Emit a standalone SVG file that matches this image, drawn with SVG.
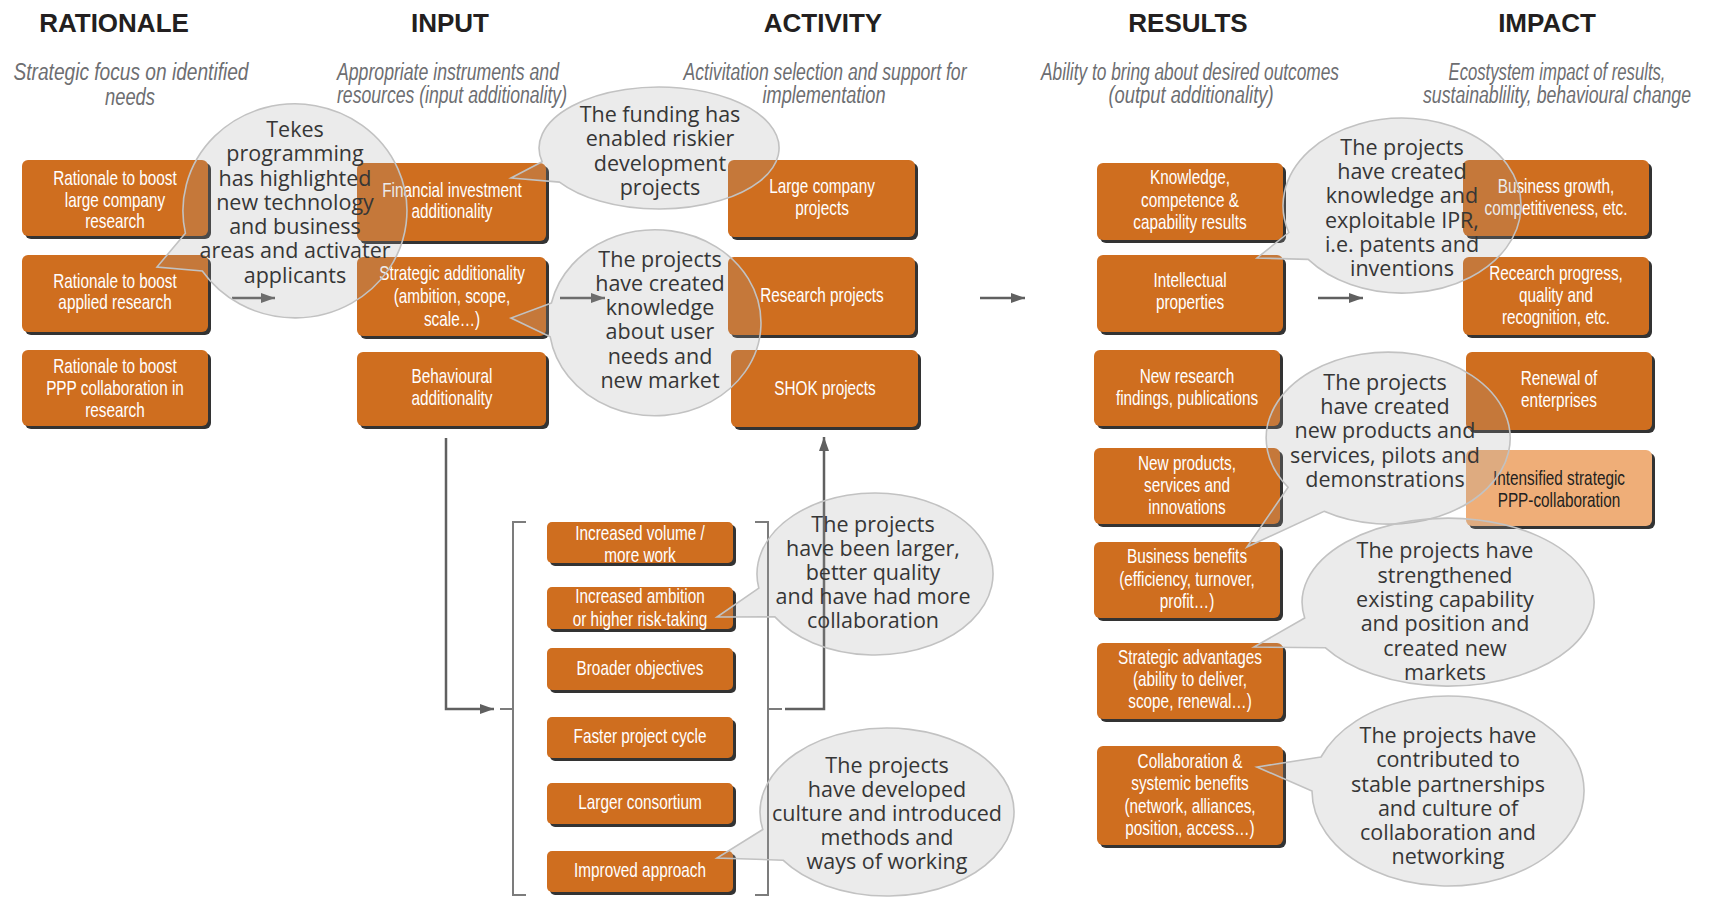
<svg xmlns="http://www.w3.org/2000/svg" width="1711" height="897" viewBox="0 0 1711 897">
  <style>
    .box { fill: #cf6e1f; }
    .box.light { fill: #efae78; }
    .sh { fill: #333333; }
    .bt { font-family: 'Liberation Sans', Arial, sans-serif; font-size: 21px; fill: #ffffff; text-anchor: middle; }
    .bt.dark { fill: #231f20; }
    .hd { font-family: 'Liberation Sans', Arial, sans-serif; font-weight: bold; font-size: 26px; fill: #231f20; text-anchor: middle; }
    .sub { font-family: 'Liberation Sans', Arial, sans-serif; font-style: italic; font-size: 23px; fill: #6d6e71; text-anchor: middle; }
    .bubble { fill: #9f9f9f; fill-opacity: 0.21; stroke: #c2c2c2; stroke-width: 1.6; stroke-linejoin: miter; }
    .ct { font-family: 'Open Sans', 'Noto Sans', sans-serif; font-size: 21.5px; fill: #363636; text-anchor: middle; }
    .ln { fill: none; stroke: #7c7c7c; stroke-width: 2; }
    .arr { fill: none; stroke: #606060; stroke-width: 2.5; marker-end: url(#head); }
  </style>
  <defs>
    <marker id="head" markerUnits="userSpaceOnUse" markerWidth="16" markerHeight="12" refX="14" refY="5" orient="auto">
      <path d="M0,0 L14,5 L0,10 Z" fill="#606060"/>
    </marker>
  </defs>

  <!-- column headings -->
  <g id="headings">
    <text class="hd" x="114" y="32">RATIONALE</text>
    <text class="hd" x="450" y="32">INPUT</text>
    <text class="hd" x="823" y="32">ACTIVITY</text>
    <text class="hd" x="1188" y="32">RESULTS</text>
    <text class="hd" x="1547" y="32">IMPACT</text>
  </g>

  <!-- column subtitles -->
  <g id="subtitles">
    <text class="sub" x="131" y="80" textLength="235" lengthAdjust="spacingAndGlyphs">Strategic focus on identified</text>
    <text class="sub" x="130" y="105" textLength="50" lengthAdjust="spacingAndGlyphs">needs</text>
    <text class="sub" x="448" y="80" textLength="222" lengthAdjust="spacingAndGlyphs">Appropriate instruments and</text>
    <text class="sub" x="452" y="103" textLength="230" lengthAdjust="spacingAndGlyphs">resources (input additionality)</text>
    <text class="sub" x="825" y="80" textLength="283" lengthAdjust="spacingAndGlyphs">Activitation selection and support for</text>
    <text class="sub" x="824" y="103" textLength="123" lengthAdjust="spacingAndGlyphs">implementation</text>
    <text class="sub" x="1190" y="80" textLength="298" lengthAdjust="spacingAndGlyphs">Ability to bring about desired outcomes</text>
    <text class="sub" x="1191" y="103" textLength="165" lengthAdjust="spacingAndGlyphs">(output additionality)</text>
    <text class="sub" x="1557" y="80" textLength="217" lengthAdjust="spacingAndGlyphs">Ecostystem impact of results,</text>
    <text class="sub" x="1557" y="103" textLength="268" lengthAdjust="spacingAndGlyphs">sustainablility, behavioural change</text>
  </g>

  <!-- connectors -->
  <g id="connectors">
    <line class="arr" x1="232" y1="298" x2="275" y2="298"/>
    <line class="arr" x1="560" y1="298" x2="605" y2="298"/>
    <line class="arr" x1="980" y1="298" x2="1025" y2="298"/>
    <line class="arr" x1="1318" y1="298" x2="1363" y2="298"/>
    <path class="arr" d="M446,438 V709 H494"/>
    <path class="ln" d="M526,522 H513 V895 H526 M513,709 H500"/>
    <path class="ln" d="M755,522 H768 V895 H755 M768,709 H782"/>
    <path class="arr" d="M785,709 H824 V437"/>
  </g>

  <!-- rationale column -->
  <g id="rationale-large">
    <rect class="sh" x="25" y="163" width="186" height="76" rx="6"/>
    <rect class="box" x="22" y="160" width="186" height="76" rx="6"/>
    <text class="bt" transform="translate(115 0) scale(.73 1)"><tspan x="0" y="185">Rationale to boost</tspan><tspan x="0" y="207">large company</tspan><tspan x="0" y="228">research</tspan></text>
  </g>
  <g id="rationale-applied">
    <rect class="sh" x="25" y="258" width="186" height="77" rx="6"/>
    <rect class="box" x="22" y="255" width="186" height="77" rx="6"/>
    <text class="bt" transform="translate(115 0) scale(.73 1)"><tspan x="0" y="288">Rationale to boost</tspan><tspan x="0" y="309">applied research</tspan></text>
  </g>
  <g id="rationale-ppp">
    <rect class="sh" x="25" y="353" width="186" height="76" rx="6"/>
    <rect class="box" x="22" y="350" width="186" height="76" rx="6"/>
    <text class="bt" transform="translate(115 0) scale(.73 1)"><tspan x="0" y="373">Rationale to boost</tspan><tspan x="0" y="395">PPP collaboration in</tspan><tspan x="0" y="417">research</tspan></text>
  </g>

  <!-- input column -->
  <g id="input-financial">
    <rect class="sh" x="360" y="166" width="189" height="78" rx="6"/>
    <rect class="box" x="357" y="163" width="189" height="78" rx="6"/>
    <text class="bt" transform="translate(452 0) scale(.73 1)"><tspan x="0" y="197">Financial investment</tspan><tspan x="0" y="218">additionality</tspan></text>
  </g>
  <g id="input-strategic">
    <rect class="sh" x="360" y="260" width="189" height="79" rx="6"/>
    <rect class="box" x="357" y="257" width="189" height="79" rx="6"/>
    <text class="bt" transform="translate(452 0) scale(.73 1)"><tspan x="0" y="280">Strategic additionality</tspan><tspan x="0" y="303">(ambition, scope,</tspan><tspan x="0" y="326">scale…)</tspan></text>
  </g>
  <g id="input-behavioural">
    <rect class="sh" x="360" y="355" width="189" height="74" rx="6"/>
    <rect class="box" x="357" y="352" width="189" height="74" rx="6"/>
    <text class="bt" transform="translate(452 0) scale(.73 1)"><tspan x="0" y="383">Behavioural</tspan><tspan x="0" y="405">additionality</tspan></text>
  </g>

  <!-- activity column -->
  <g id="activity-large">
    <rect class="sh" x="731" y="163" width="187" height="77" rx="6"/>
    <rect class="box" x="728" y="160" width="187" height="77" rx="6"/>
    <text class="bt" transform="translate(822 0) scale(.73 1)"><tspan x="0" y="193">Large company</tspan><tspan x="0" y="215">projects</tspan></text>
  </g>
  <g id="activity-research">
    <rect class="sh" x="731" y="260" width="187" height="78" rx="6"/>
    <rect class="box" x="728" y="257" width="187" height="78" rx="6"/>
    <text class="bt" transform="translate(822 0) scale(.73 1)"><tspan x="0" y="302">Research projects</tspan></text>
  </g>
  <g id="activity-shok">
    <rect class="sh" x="734" y="353" width="187" height="77" rx="6"/>
    <rect class="box" x="731" y="350" width="187" height="77" rx="6"/>
    <text class="bt" transform="translate(825 0) scale(.73 1)"><tspan x="0" y="395">SHOK projects</tspan></text>
  </g>

  <!-- behavioural additionality list -->
  <g id="list-volume">
    <rect class="sh" x="550" y="525" width="186" height="41" rx="5"/>
    <rect class="box" x="547" y="522" width="186" height="41" rx="5"/>
    <text class="bt" transform="translate(640 0) scale(.73 1)"><tspan x="0" y="540">Increased volume /</tspan><tspan x="0" y="562">more work</tspan></text>
  </g>
  <g id="list-ambition">
    <rect class="sh" x="550" y="590" width="186" height="42" rx="5"/>
    <rect class="box" x="547" y="587" width="186" height="42" rx="5"/>
    <text class="bt" transform="translate(640 0) scale(.73 1)"><tspan x="0" y="603">Increased ambition</tspan><tspan x="0" y="626">or higher risk-taking</tspan></text>
  </g>
  <g id="list-objectives">
    <rect class="sh" x="550" y="651" width="186" height="42" rx="5"/>
    <rect class="box" x="547" y="648" width="186" height="42" rx="5"/>
    <text class="bt" transform="translate(640 0) scale(.73 1)"><tspan x="0" y="675">Broader objectives</tspan></text>
  </g>
  <g id="list-cycle">
    <rect class="sh" x="550" y="720" width="186" height="41" rx="5"/>
    <rect class="box" x="547" y="717" width="186" height="41" rx="5"/>
    <text class="bt" transform="translate(640 0) scale(.73 1)"><tspan x="0" y="743">Faster project cycle</tspan></text>
  </g>
  <g id="list-consortium">
    <rect class="sh" x="550" y="786" width="186" height="41" rx="5"/>
    <rect class="box" x="547" y="783" width="186" height="41" rx="5"/>
    <text class="bt" transform="translate(640 0) scale(.73 1)"><tspan x="0" y="809">Larger consortium</tspan></text>
  </g>
  <g id="list-approach">
    <rect class="sh" x="550" y="854" width="186" height="41" rx="5"/>
    <rect class="box" x="547" y="851" width="186" height="41" rx="5"/>
    <text class="bt" transform="translate(640 0) scale(.73 1)"><tspan x="0" y="877">Improved approach</tspan></text>
  </g>

  <!-- results column -->
  <g id="results-knowledge">
    <rect class="sh" x="1100" y="166" width="186" height="77" rx="6"/>
    <rect class="box" x="1097" y="163" width="186" height="77" rx="6"/>
    <text class="bt" transform="translate(1190 0) scale(.73 1)"><tspan x="0" y="184">Knowledge,</tspan><tspan x="0" y="207">competence &amp;</tspan><tspan x="0" y="229">capability results</tspan></text>
  </g>
  <g id="results-ip">
    <rect class="sh" x="1100" y="258" width="186" height="77" rx="6"/>
    <rect class="box" x="1097" y="255" width="186" height="77" rx="6"/>
    <text class="bt" transform="translate(1190 0) scale(.73 1)"><tspan x="0" y="287">Intellectual</tspan><tspan x="0" y="309">properties</tspan></text>
  </g>
  <g id="results-findings">
    <rect class="sh" x="1097" y="353" width="186" height="76" rx="6"/>
    <rect class="box" x="1094" y="350" width="186" height="76" rx="6"/>
    <text class="bt" transform="translate(1187 0) scale(.73 1)"><tspan x="0" y="383">New research</tspan><tspan x="0" y="405">findings, publications</tspan></text>
  </g>
  <g id="results-products">
    <rect class="sh" x="1097" y="451" width="186" height="76" rx="6"/>
    <rect class="box" x="1094" y="448" width="186" height="76" rx="6"/>
    <text class="bt" transform="translate(1187 0) scale(.73 1)"><tspan x="0" y="470">New products,</tspan><tspan x="0" y="492">services and</tspan><tspan x="0" y="514">innovations</tspan></text>
  </g>
  <g id="results-business">
    <rect class="sh" x="1097" y="545" width="186" height="76" rx="6"/>
    <rect class="box" x="1094" y="542" width="186" height="76" rx="6"/>
    <text class="bt" transform="translate(1187 0) scale(.73 1)"><tspan x="0" y="563">Business benefits</tspan><tspan x="0" y="586">(efficiency, turnover,</tspan><tspan x="0" y="608">profit…)</tspan></text>
  </g>
  <g id="results-strategic">
    <rect class="sh" x="1100" y="646" width="186" height="76" rx="6"/>
    <rect class="box" x="1097" y="643" width="186" height="76" rx="6"/>
    <text class="bt" transform="translate(1190 0) scale(.73 1)"><tspan x="0" y="664">Strategic advantages</tspan><tspan x="0" y="686">(ability to deliver,</tspan><tspan x="0" y="708">scope, renewal…)</tspan></text>
  </g>
  <g id="results-collaboration">
    <rect class="sh" x="1100" y="749" width="186" height="99" rx="6"/>
    <rect class="box" x="1097" y="746" width="186" height="99" rx="6"/>
    <text class="bt" transform="translate(1190 0) scale(.73 1)"><tspan x="0" y="768">Collaboration &amp;</tspan><tspan x="0" y="790">systemic benefits</tspan><tspan x="0" y="813">(network, alliances,</tspan><tspan x="0" y="835">position, access…)</tspan></text>
  </g>

  <!-- impact column -->
  <g id="impact-growth">
    <rect class="sh" x="1466" y="163" width="186" height="76" rx="6"/>
    <rect class="box" x="1463" y="160" width="186" height="76" rx="6"/>
    <text class="bt" transform="translate(1556 0) scale(.73 1)"><tspan x="0" y="193">Business growth,</tspan><tspan x="0" y="215">competitiveness, etc.</tspan></text>
  </g>
  <g id="impact-research">
    <rect class="sh" x="1466" y="260" width="186" height="78" rx="6"/>
    <rect class="box" x="1463" y="257" width="186" height="78" rx="6"/>
    <text class="bt" transform="translate(1556 0) scale(.73 1)"><tspan x="0" y="280">Recearch progress,</tspan><tspan x="0" y="302">quality and</tspan><tspan x="0" y="324">recognition, etc.</tspan></text>
  </g>
  <g id="impact-renewal">
    <rect class="sh" x="1469" y="355" width="186" height="78" rx="6"/>
    <rect class="box" x="1466" y="352" width="186" height="78" rx="6"/>
    <text class="bt" transform="translate(1559 0) scale(.73 1)"><tspan x="0" y="385">Renewal of</tspan><tspan x="0" y="407">enterprises</tspan></text>
  </g>
  <g id="impact-ppp">
    <rect class="sh" x="1469" y="453" width="186" height="76" rx="6"/>
    <rect class="box light" x="1466" y="450" width="186" height="76" rx="6"/>
    <text class="bt dark" transform="translate(1559 0) scale(.73 1)"><tspan x="0" y="485">Intensified strategic</tspan><tspan x="0" y="507">PPP-collaboration</tspan></text>
  </g>

  <!-- speech bubbles -->
  <g id="bubble-tekes">
    <path class="bubble" d="M185.4,233.2 L157,267 L202.3,271 A112,107 0 1 0 185.4,233.2 Z"/>
    <text class="ct"><tspan x="295" y="137">Tekes</tspan><tspan x="295" y="161">programming</tspan><tspan x="295" y="186">has highlighted</tspan><tspan x="295" y="210">new technology</tspan><tspan x="295" y="234">and business</tspan><tspan x="295" y="258">areas and activater</tspan><tspan x="295" y="283">applicants</tspan></text>
  </g>
  <g id="bubble-funding">
    <path class="bubble" d="M542.1,161.7 L511,178 L559.5,182.1 A120,61 0 1 0 542.1,161.7 Z"/>
    <text class="ct"><tspan x="660" y="122">The funding has</tspan><tspan x="660" y="146">enabled riskier</tspan><tspan x="660" y="171">development</tspan><tspan x="660" y="195">projects</tspan></text>
  </g>
  <g id="bubble-market">
    <path class="bubble" d="M551.4,303 L511,318 L550.2,336.9 A106,93 0 1 0 551.4,303 Z"/>
    <text class="ct"><tspan x="660" y="267">The projects</tspan><tspan x="660" y="291">have created</tspan><tspan x="660" y="315">knowledge</tspan><tspan x="660" y="339">about user</tspan><tspan x="660" y="364">needs and</tspan><tspan x="660" y="388">new market</tspan></text>
  </g>
  <g id="bubble-larger">
    <path class="bubble" d="M758.8,588.1 L717,617 L774.9,616.9 A118,81 0 1 0 758.8,588.1 Z"/>
    <text class="ct"><tspan x="873" y="532">The projects</tspan><tspan x="873" y="556">have been larger,</tspan><tspan x="873" y="580">better quality</tspan><tspan x="873" y="604">and have had more</tspan><tspan x="873" y="628">collaboration</tspan></text>
  </g>
  <g id="bubble-culture">
    <path class="bubble" d="M762.8,829.5 L717,858 L783,860.2 A127,84 0 1 0 762.8,829.5 Z"/>
    <text class="ct"><tspan x="887" y="773">The projects</tspan><tspan x="887" y="797">have developed</tspan><tspan x="887" y="821">culture and introduced</tspan><tspan x="887" y="845">methods and</tspan><tspan x="887" y="869">ways of working</tspan></text>
  </g>
  <g id="bubble-ipr">
    <path class="bubble" d="M1288.8,232.5 L1257,258 L1308.2,259.4 A119,87.5 0 1 0 1288.8,232.5 Z"/>
    <text class="ct"><tspan x="1402" y="155">The projects</tspan><tspan x="1402" y="179">have created</tspan><tspan x="1402" y="203">knowledge and</tspan><tspan x="1402" y="228">exploitable IPR,</tspan><tspan x="1402" y="252">i.e. patents and</tspan><tspan x="1402" y="276">inventions</tspan></text>
  </g>
  <g id="bubble-products">
    <path class="bubble" d="M1288.1,487.3 L1247,547 L1324.1,511.3 A122,86 0 1 0 1288.1,487.3 Z"/>
    <text class="ct"><tspan x="1385" y="390">The projects</tspan><tspan x="1385" y="414">have created</tspan><tspan x="1385" y="438">new products and</tspan><tspan x="1385" y="463">services, pilots and</tspan><tspan x="1385" y="487">demonstrations</tspan></text>
  </g>
  <g id="bubble-capability">
    <path class="bubble" d="M1304.7,618 L1254,647 L1325.5,647.8 A146,84 0 1 0 1304.7,618 Z"/>
    <text class="ct"><tspan x="1445" y="558">The projects have</tspan><tspan x="1445" y="583">strengthened</tspan><tspan x="1445" y="607">existing capability</tspan><tspan x="1445" y="631">and position and</tspan><tspan x="1445" y="656">created new</tspan><tspan x="1445" y="680">markets</tspan></text>
  </g>
  <g id="bubble-partnerships">
    <path class="bubble" d="M1321,757 L1257,767 L1312,791 A136,95 0 1 0 1321,757 Z"/>
    <text class="ct"><tspan x="1448" y="743">The projects have</tspan><tspan x="1448" y="767">contributed to</tspan><tspan x="1448" y="792">stable partnerships</tspan><tspan x="1448" y="816">and culture of</tspan><tspan x="1448" y="840">collaboration and</tspan><tspan x="1448" y="864">networking</tspan></text>
  </g>
</svg>
